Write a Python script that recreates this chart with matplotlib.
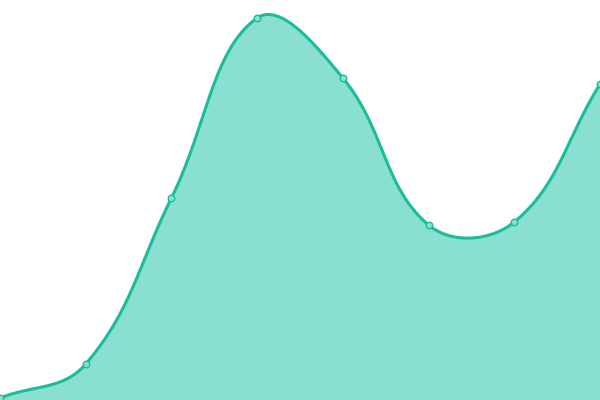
import numpy as np
import matplotlib
matplotlib.use("Agg")
from matplotlib import pyplot as plt

labels = ["1", "2", "3", "4", "5", "6", "7", "8"]
values = [2, 36, 202, 382, 322, 175, 178, 316]

line_color = "#1abc9c"
fill_color = "#8ae0d0"
tension = 0.4

# x positions spread over the full width, 0..600
xs = np.linspace(0, 600, len(values))
ys = np.array(values, dtype=float)

# chart.js style spline control points
n = len(xs)
cp_prev = [(xs[i], ys[i]) for i in range(n)]
cp_next = [(xs[i], ys[i]) for i in range(n)]
for i in range(n):
    px, py = (xs[i - 1], ys[i - 1]) if i > 0 else (xs[i], ys[i])
    nx, ny = (xs[i + 1], ys[i + 1]) if i < n - 1 else (xs[i], ys[i])
    d01 = np.hypot(xs[i] - px, ys[i] - py)
    d12 = np.hypot(nx - xs[i], ny - ys[i])
    tot = d01 + d12
    s01 = d01 / tot if tot else 0
    s12 = d12 / tot if tot else 0
    fa = tension * s01
    fb = tension * s12
    cp_prev[i] = (xs[i] - fa * (nx - px), ys[i] - fa * (ny - py))
    cp_next[i] = (xs[i] + fb * (nx - px), ys[i] + fb * (ny - py))

t = np.linspace(0, 1, 60)
cx, cy = [], []
for i in range(n - 1):
    p0 = np.array([xs[i], ys[i]])
    p1 = np.array(cp_next[i])
    p2 = np.array(cp_prev[i + 1])
    p3 = np.array([xs[i + 1], ys[i + 1]])
    tt = t[:, None]
    seg = ((1 - tt) ** 3) * p0 + 3 * ((1 - tt) ** 2) * tt * p1 + 3 * (1 - tt) * tt ** 2 * p2 + tt ** 3 * p3
    cx.extend(seg[:, 0])
    cy.extend(seg[:, 1])

fig = plt.figure(figsize=(6, 4), dpi=100)
ax = fig.add_axes([0, 0, 1, 1])
ax.fill_between(cx, cy, 0, color=fill_color, linewidth=0)
ax.plot(cx, cy, color=line_color, linewidth=2.2, solid_capstyle="round")
ax.scatter(xs, ys, s=22, facecolor=fill_color, edgecolor=line_color, linewidth=1, zorder=3)
ax.set_xlim(0, 600)
ax.set_ylim(0, 400)
ax.axis("off")
fig.savefig("out.png", dpi=100)
